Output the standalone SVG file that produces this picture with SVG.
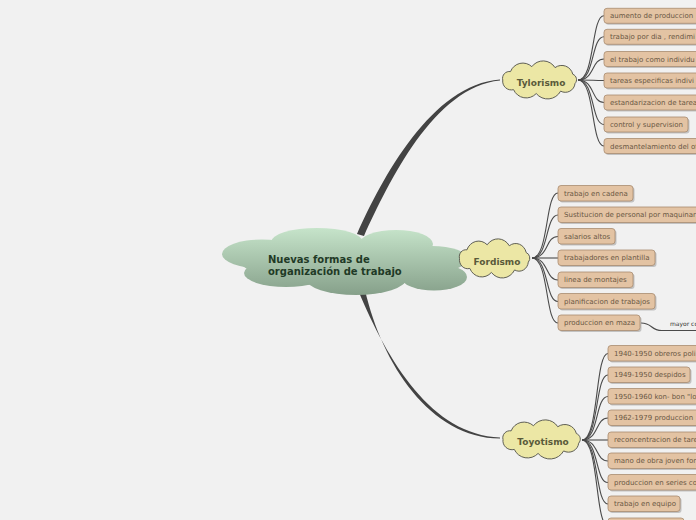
<svg xmlns="http://www.w3.org/2000/svg" xmlns:xlink="http://www.w3.org/1999/xlink" width="696" height="520" viewBox="0 0 696 520">
<style>
.bg{fill:#f1f1f1}
.main{fill:#434343}
.br{fill:none;stroke:#4a4a4a;stroke-width:1.1}
.cloudp{fill:#ece7a5;stroke:#5f5f55;stroke-width:1;vector-effect:non-scaling-stroke}
.ct{font-family:"DejaVu Sans",Verdana,sans-serif;font-size:9px;font-weight:bold;fill:#5a5a3a;text-anchor:middle}
.leaf{fill:#e3c3a3;stroke:#a88c70;stroke-width:0.8}
.sh{fill:#9a9a9a;opacity:0.55}
.lt{font-family:"DejaVu Sans",Verdana,sans-serif;font-size:7px;fill:#6a5844}
.rt{font-family:"DejaVu Sans",Verdana,sans-serif;font-size:10px;font-weight:bold;fill:#1f3a26}
.sm{font-family:"DejaVu Sans",Verdana,sans-serif;font-size:6px;fill:#333}
</style>
<defs>
<linearGradient id="g" gradientUnits="userSpaceOnUse" x1="0" y1="227" x2="0" y2="295">
<stop offset="0" stop-color="#c7e5cb"/>
<stop offset="1" stop-color="#86a08a"/>
</linearGradient>
<path id="cl" class="cloudp" d="M-35,0 A6.5,6.5 0 0 1 -27.6,-8 A12.5,12.5 0 0 1 -7.3,-12.7 A13.3,13.3 0 0 1 14.8,-11.8 A10.8,10.8 0 0 1 31.7,-5.5 A5.5,5.5 0 0 1 33.8,3.4 A9.3,9.3 0 0 1 20.1,10.6 A14,14 0 0 1 -3.1,12.9 A13.1,13.1 0 0 1 -24.7,9.2 A8.3,8.3 0 0 1 -35,0 Z"/>
</defs>
<rect class="bg" x="0" y="0" width="696" height="520"/>

<g id="connectors">
<path class="main" d="M357,234 C382,178 432,84 500,79.4 L500,80.6 C434,87 389,182 364,236 Z"/>
<path class="main" d="M358,290 C388,362 432,435 500,437.4 L500,438.6 C430,438 382,364 365,290 Z"/>
<path class="br" d="M578,80 C595,80 591,15.8 604,15.8"/>
<path class="br" d="M578,80 C595,80 591,36.8 604,36.8"/>
<path class="br" d="M578,80 C595,80 591,59 604,59"/>
<path class="br" d="M578,80 C595,80 591,80.5 604,80.5"/>
<path class="br" d="M578,80 C595,80 591,102.5 604,102.5"/>
<path class="br" d="M578,80 C595,80 591,124.5 604,124.5"/>
<path class="br" d="M578,80 C595,80 591,146 604,146"/>
<path class="br" d="M532,258 C549,258 545,193 558,193"/>
<path class="br" d="M532,258 C549,258 545,215 558,215"/>
<path class="br" d="M532,258 C549,258 545,236.5 558,236.5"/>
<path class="br" d="M532,258 C549,258 545,258 558,258"/>
<path class="br" d="M532,258 C549,258 545,280 558,280"/>
<path class="br" d="M532,258 C549,258 545,301.5 558,301.5"/>
<path class="br" d="M532,258 C549,258 545,323 558,323"/>
<path class="br" d="M641,323 C653,323 650,330.5 662,330.5 L696,330.5"/>
<path class="br" d="M582,440 C599,440 595,353.5 608,353.5"/>
<path class="br" d="M582,440 C599,440 595,375 608,375"/>
<path class="br" d="M582,440 C599,440 595,396.5 608,396.5"/>
<path class="br" d="M582,440 C599,440 595,418 608,418"/>
<path class="br" d="M582,440 C599,440 595,440 608,440"/>
<path class="br" d="M582,440 C599,440 595,461 608,461"/>
<path class="br" d="M582,440 C599,440 595,482.5 608,482.5"/>
<path class="br" d="M582,440 C599,440 595,504 608,504"/>
<path class="br" d="M582,440 C599,440 595,526 608,526"/>
<text class="sm" x="670" y="326">mayor co</text>
</g>

<g id="root">
<g fill="url(#g)">
<ellipse cx="345" cy="261" rx="105" ry="22"/>
<ellipse cx="262" cy="254" rx="40" ry="14.5"/>
<ellipse cx="317" cy="242" rx="46" ry="14"/>
<ellipse cx="396" cy="244" rx="37" ry="14"/>
<ellipse cx="432" cy="259" rx="36" ry="13"/>
<ellipse cx="286" cy="273" rx="42" ry="14"/>
<ellipse cx="356" cy="279" rx="50" ry="16"/>
<ellipse cx="434" cy="277" rx="33" ry="13.5"/>
</g>
<text class="rt" x="268" y="263">Nuevas formas de</text>
<text class="rt" x="268" y="275">organización de trabajo</text>
</g>

<g id="tylorismo">
<use xlink:href="#cl" href="#cl" transform="translate(539.5,80) scale(1.05,1.05)"/>
<text class="ct" x="541" y="86">Tylorismo</text>
</g>
<g id="fordismo">
<use xlink:href="#cl" href="#cl" transform="translate(494.5,258.5) scale(1.0,1.08)"/>
<text class="ct" x="497" y="265">Fordismo</text>
</g>
<g id="toyotismo">
<use xlink:href="#cl" href="#cl" transform="translate(541.5,439.5) scale(1.1,1.08)"/>
<text class="ct" x="543" y="445">Toyotismo</text>
</g>

<g id="t1"><rect class="sh" x="605.5" y="9.8" width="96" height="15" rx="3"/><rect class="leaf" x="604" y="8.3" width="96" height="15" rx="3"/><text class="lt" x="610" y="18.3">aumento de produccion</text></g>
<g id="t2"><rect class="sh" x="605.5" y="30.8" width="140" height="15" rx="3"/><rect class="leaf" x="604" y="29.3" width="140" height="15" rx="3"/><text class="lt" x="610" y="39.3">trabajo por dia , rendimi</text></g>
<g id="t3"><rect class="sh" x="605.5" y="53" width="140" height="15" rx="3"/><rect class="leaf" x="604" y="51.5" width="140" height="15" rx="3"/><text class="lt" x="610" y="61.5">el trabajo como individu</text></g>
<g id="t4"><rect class="sh" x="605.5" y="74.5" width="140" height="15" rx="3"/><rect class="leaf" x="604" y="73" width="140" height="15" rx="3"/><text class="lt" x="610" y="83">tareas especificas indivi</text></g>
<g id="t5"><rect class="sh" x="605.5" y="96.5" width="140" height="15" rx="3"/><rect class="leaf" x="604" y="95" width="140" height="15" rx="3"/><text class="lt" x="610" y="105">estandarizacion de tarea</text></g>
<g id="t6"><rect class="sh" x="605.5" y="118.5" width="84" height="15" rx="3"/><rect class="leaf" x="604" y="117" width="84" height="15" rx="3"/><text class="lt" x="610" y="127">control y supervision</text></g>
<g id="t7"><rect class="sh" x="605.5" y="140" width="140" height="15" rx="3"/><rect class="leaf" x="604" y="138.5" width="140" height="15" rx="3"/><text class="lt" x="610" y="148.5">desmantelamiento del of</text></g>

<g id="f1"><rect class="sh" x="559.5" y="187" width="75" height="15.5" rx="3"/><rect class="leaf" x="558" y="185.5" width="75" height="15.5" rx="3"/><text class="lt" x="564" y="195.8">trabajo en cadena</text></g>
<g id="f2"><rect class="sh" x="559.5" y="208.5" width="170" height="15.5" rx="3"/><rect class="leaf" x="558" y="207" width="170" height="15.5" rx="3"/><text class="lt" x="564" y="217.3">Sustitucion de personal por maquinar</text></g>
<g id="f3"><rect class="sh" x="559.5" y="230" width="57" height="15.5" rx="3"/><rect class="leaf" x="558" y="228.5" width="57" height="15.5" rx="3"/><text class="lt" x="564" y="238.8">salarios altos</text></g>
<g id="f4"><rect class="sh" x="559.5" y="251.5" width="97" height="15.5" rx="3"/><rect class="leaf" x="558" y="250" width="97" height="15.5" rx="3"/><text class="lt" x="564" y="260.3">trabajadores en plantilla</text></g>
<g id="f5"><rect class="sh" x="559.5" y="273.5" width="75" height="15.5" rx="3"/><rect class="leaf" x="558" y="272" width="75" height="15.5" rx="3"/><text class="lt" x="564" y="282.3">linea de montajes</text></g>
<g id="f6"><rect class="sh" x="559.5" y="295" width="97" height="15.5" rx="3"/><rect class="leaf" x="558" y="293.5" width="97" height="15.5" rx="3"/><text class="lt" x="564" y="303.8">planificacion de trabajos</text></g>
<g id="f7"><rect class="sh" x="559.5" y="316.5" width="82" height="15.5" rx="3"/><rect class="leaf" x="558" y="315" width="82" height="15.5" rx="3"/><text class="lt" x="564" y="325.3">produccion en maza</text></g>

<g id="y1"><rect class="sh" x="609.5" y="347" width="140" height="15.5" rx="3"/><rect class="leaf" x="608" y="345.5" width="140" height="15.5" rx="3"/><text class="lt" x="614" y="355.8">1940-1950 obreros poli</text></g>
<g id="y2"><rect class="sh" x="609.5" y="368.5" width="82" height="15.5" rx="3"/><rect class="leaf" x="608" y="367" width="82" height="15.5" rx="3"/><text class="lt" x="614" y="377.3">1949-1950 despidos</text></g>
<g id="y3"><rect class="sh" x="609.5" y="390" width="140" height="15.5" rx="3"/><rect class="leaf" x="608" y="388.5" width="140" height="15.5" rx="3"/><text class="lt" x="614" y="398.8">1950-1960 kon- bon "lo</text></g>
<g id="y4"><rect class="sh" x="609.5" y="411.5" width="140" height="15.5" rx="3"/><rect class="leaf" x="608" y="410" width="140" height="15.5" rx="3"/><text class="lt" x="614" y="420.3">1962-1979 produccion</text></g>
<g id="y5"><rect class="sh" x="609.5" y="433.5" width="140" height="15.5" rx="3"/><rect class="leaf" x="608" y="432" width="140" height="15.5" rx="3"/><text class="lt" x="614" y="442.3">reconcentracion de tare</text></g>
<g id="y6"><rect class="sh" x="609.5" y="454.5" width="140" height="15.5" rx="3"/><rect class="leaf" x="608" y="453" width="140" height="15.5" rx="3"/><text class="lt" x="614" y="463.3">mano de obra joven for</text></g>
<g id="y7"><rect class="sh" x="609.5" y="476" width="140" height="15.5" rx="3"/><rect class="leaf" x="608" y="474.5" width="140" height="15.5" rx="3"/><text class="lt" x="614" y="484.8">produccion en series co</text></g>
<g id="y8"><rect class="sh" x="609.5" y="497.5" width="72" height="15.5" rx="3"/><rect class="leaf" x="608" y="496" width="72" height="15.5" rx="3"/><text class="lt" x="614" y="506.3">trabajo en equipo</text></g>
<g id="y9"><rect class="sh" x="609.5" y="519.5" width="76" height="15.5" rx="3"/><rect class="leaf" x="608" y="518" width="76" height="15.5" rx="3"/></g>
</svg>
